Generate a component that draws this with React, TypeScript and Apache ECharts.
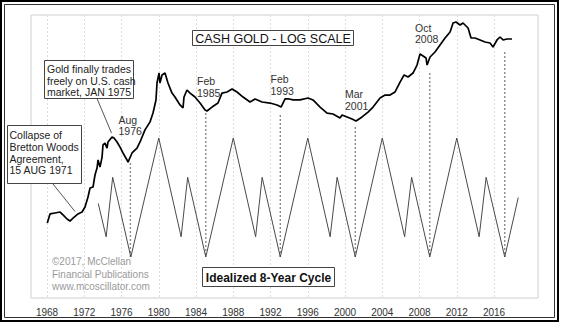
import React, { useEffect, useRef } from "react";
import * as echarts from "echarts";

// Cash gold (USD/oz)
const goldYears = [
  1968.03, 1968.32, 1968.86, 1969.4, 1969.72, 1970.15, 1970.47, 1970.79, 1971.33, 1971.76,
  1972.08, 1972.4, 1972.62, 1972.94, 1973.15, 1973.37, 1973.48, 1973.69, 1973.91, 1974.01,
  1974.23, 1974.44, 1974.55, 1974.98, 1975.19, 1975.52, 1975.84, 1976.16, 1976.59, 1976.7,
  1977.13, 1977.66, 1977.99, 1978.52, 1979.06, 1979.38, 1979.7, 1979.81, 1980.03, 1980.13,
  1980.35, 1980.67, 1980.99, 1981.42, 1981.74, 1982.28, 1982.6, 1982.71, 1983.03, 1983.36,
  1983.89, 1984.43, 1984.97, 1985.18, 1985.72, 1986.36, 1986.79, 1987.33, 1987.87, 1988.4,
  1989.05, 1989.8, 1990.34, 1991.09, 1991.95, 1992.7, 1993.13, 1993.56, 1993.99, 1994.42,
  1995.17, 1996.03, 1996.56, 1997.32, 1998.07, 1998.71, 1999.46, 1999.68, 2000.22, 2000.75,
  2001.18, 2001.83, 2002.47, 2003.01, 2003.76, 2004.3, 2004.83, 2005.37, 2005.91, 2006.34,
  2006.77, 2007.3, 2007.73, 2008.05, 2008.38, 2008.7, 2008.81, 2009.13, 2009.66, 2010.2,
  2010.74, 2011.28, 2011.6, 2011.92, 2012.35, 2012.67, 2013.21, 2013.53, 2013.96, 2014.5,
  2015.03, 2015.57, 2015.89, 2016.32, 2016.64, 2016.97, 2017.4, 2017.93,
];
const goldPrices = [
  34, 40.7, 41.5, 42.3, 39.9, 36.8, 35.3, 37.5, 40.7, 42.3,
  46.8, 57.1, 68.4, 69.8, 88.8, 102, 120, 104, 127, 162,
  168, 152, 172, 190, 186, 172, 155, 138, 120, 115,
  138, 152, 172, 219, 257, 307, 399, 560, 684, 560,
  657, 684, 560, 458, 423, 361, 340, 423, 487, 458,
  423, 375, 326, 320, 346, 375, 458, 468, 497, 468,
  423, 383, 407, 383, 375, 361, 346, 407, 407, 399,
  399, 415, 399, 346, 307, 301, 278, 295, 284, 272,
  262, 284, 313, 346, 415, 440, 440, 468, 571, 657,
  632, 684, 803, 1001, 962, 924, 803, 943, 1042, 1199,
  1379, 1555, 1862, 1900, 1789, 1862, 1685, 1379, 1379, 1326,
  1273, 1248, 1152, 1326, 1407, 1326, 1352, 1352,
];

// Idealized 8-year cycle (0 = deep trough, 100 = main crest)
const cycleYears = [
  1973.5, 1974.35, 1975.05, 1977.0, 1980.0, 1982.4, 1983.1, 1985.05, 1988.0, 1990.4,
  1991.1, 1993.05, 1996.0, 1998.4, 1999.15, 2001.1, 2004.0, 2006.4, 2007.15, 2009.1,
  2012.0, 2014.4, 2015.15, 2017.15, 2018.6,
];
const cycleValues = [
  45, 17, 67, 0, 100, 17, 67, 0, 100, 17,
  67, 0, 100, 17, 67, 0, 100, 17, 67, 0,
  100, 17, 67, 0, 50,
];

// Cycle lows marked with dotted connectors
const lowYears = [1976.95, 1985.05, 1993.05, 2001.1, 2009.1, 2017.15];
const lowPrices = [113, 307, 295, 232, 684, 1042];
const lowCycleValue = 0;

const tickYears = [1968, 1972, 1976, 1980, 1984, 1988, 1992, 1996, 2000, 2004, 2008, 2012, 2016];

const FONT = "'Liberation Sans', Arial, sans-serif";

function txt(x: number, y: number, text: string, size: number, fill: string, align = "left", weight = "normal") {
  return {
    type: "text",
    x,
    y,
    z: 11,
    style: {
      text,
      fontSize: size,
      fontFamily: FONT,
      fontWeight: weight,
      fill,
      align,
      textAlign: align,
      verticalAlign: "middle",
      textVerticalAlign: "middle",
    },
  };
}

function box(x: number, y: number, w: number, h: number) {
  return {
    type: "rect",
    z: 10,
    shape: { x, y, width: w, height: h },
    style: { fill: "#fff", stroke: "#444", lineWidth: 1 },
  };
}

function leader(x1: number, y1: number, x2: number, y2: number) {
  return {
    type: "line",
    z: 10,
    shape: { x1, y1, x2, y2 },
    style: { stroke: "#555", lineWidth: 1 },
  };
}

export default function App() {
  const ref = useRef<HTMLDivElement>(null);

  useEffect(() => {
    document.body.style.margin = "0";
    if (!ref.current) return;
    const chart = echarts.init(ref.current, undefined, { renderer: "svg" });

    const gold = goldYears.map((y, i) => [y, goldPrices[i]]);
    const cycle = cycleYears.map((y, i) => [y, cycleValues[i]]);

    chart.setOption({
      animation: false,
      backgroundColor: "#fff",
      grid: {
        left: 31,
        top: 15,
        right: 24,
        bottom: 26,
        show: true,
        borderColor: "#cfcfcf",
        borderWidth: 1,
        backgroundColor: "transparent",
      },
      xAxis: {
        type: "value",
        min: 1966.28,
        max: 2020.72,
        axisLine: { show: false },
        axisTick: { show: false, customValues: tickYears },
        axisLabel: {
          customValues: tickYears,
          formatter: (v: number) => String(Math.round(v)),
          fontSize: 10,
          color: "#333",
          margin: 9,
          fontFamily: FONT,
        },
        splitLine: { show: true, lineStyle: { color: "#dcdcdc", width: 1, type: [2, 2] } },
      },
      yAxis: [
        { type: "log", min: 7.565, max: 2186, show: false, splitLine: { show: false } },
        { type: "value", min: -34.45, max: 203.4, show: false, splitLine: { show: false } },
      ],
      series: [
        {
          type: "line",
          data: gold,
          xAxisIndex: 0,
          yAxisIndex: 0,
          showSymbol: false,
          symbol: "none",
          lineStyle: { color: "#000", width: 1.7 },
          z: 5,
        },
        {
          type: "line",
          data: cycle,
          xAxisIndex: 0,
          yAxisIndex: 1,
          showSymbol: false,
          symbol: "none",
          lineStyle: { color: "#4a4a4a", width: 1 },
          z: 4,
        },
      ],
    });

    const connectors = lowYears.map((yr, i) => {
      const p1 = chart.convertToPixel({ xAxisIndex: 0, yAxisIndex: 0 }, [yr, lowPrices[i]]) as number[];
      const p2 = chart.convertToPixel({ xAxisIndex: 0, yAxisIndex: 1 }, [yr, lowCycleValue]) as number[];
      return {
        type: "line",
        z: 3,
        shape: { x1: p1[0], y1: p1[1], x2: p1[0], y2: p2[1] },
        style: { stroke: "#8a8a8a", lineWidth: 1.4, lineDash: [2, 2] },
      };
    });

    const graphic: any[] = [
      ...connectors,
      // frame
      { type: "rect", z: 20, shape: { x: 1, y: 1, width: 557, height: 320 }, style: { fill: "none", stroke: "#000", lineWidth: 2 } },
      { type: "rect", z: 20, shape: { x: 4.5, y: 4.5, width: 550, height: 313 }, style: { fill: "none", stroke: "#333", lineWidth: 1 } },
      // title
      box(192.5, 30.5, 161, 15),
      txt(273, 38.5, "CASH GOLD - LOG SCALE", 12.5, "#111", "center"),
      // idealized cycle label
      box(202.5, 267.5, 132, 19),
      txt(268.5, 277.5, "Idealized 8-Year Cycle", 12, "#111", "center", "bold"),
      // free trading annotation
      leader(97, 98.5, 111.5, 133),
      box(44.5, 60.5, 89, 38),
      txt(47, 69, "Gold finally trades", 10.5, "#222"),
      txt(47, 80.7, "freely on U.S. cash", 10.5, "#222"),
      txt(47, 92.2, "market, JAN 1975", 10.5, "#222"),
      // Bretton Woods annotation
      leader(53, 184, 75, 211.5),
      box(7.5, 125.5, 74, 58),
      txt(9.5, 135.2, "Collapse of", 10.5, "#222"),
      txt(9.5, 146.9, "Bretton Woods", 10.5, "#222"),
      txt(9.5, 158.6, "Agreement,", 10.5, "#222"),
      txt(9.5, 170.3, "15 AUG 1971", 10.5, "#222"),
      // low labels
      txt(118.5, 119.5, "Aug", 10.5, "#333"),
      txt(118.5, 131, "1976", 10.5, "#333"),
      txt(197, 80.5, "Feb", 10.5, "#333"),
      txt(197, 93, "1985", 10.5, "#333"),
      txt(270.5, 78.5, "Feb", 10.5, "#333"),
      txt(270.5, 91, "1993", 10.5, "#333"),
      txt(345, 94, "Mar", 10.5, "#333"),
      txt(345, 105.5, "2001", 10.5, "#333"),
      txt(415, 27.5, "Oct", 10.5, "#333"),
      txt(415, 38.5, "2008", 10.5, "#333"),
      // credit
      txt(52, 261.7, "\u00a92017, McClellan", 10, "#9a9a9a"),
      txt(52, 274, "Financial Publications", 10, "#9a9a9a"),
      txt(52, 286.2, "www.mcoscillator.com", 10, "#9a9a9a"),
    ];

    chart.setOption({ graphic });

    return () => chart.dispose();
  }, []);

  return <div ref={ref} style={{ width: 562, height: 324 }} />;
}
